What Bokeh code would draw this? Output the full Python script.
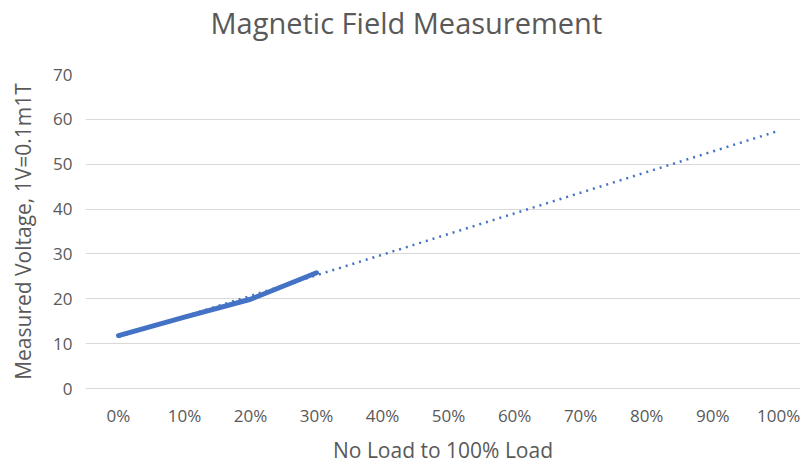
import numpy as np
from bokeh.plotting import figure
from bokeh.models import Range1d, FixedTicker, Title
from bokeh.embed import file_html
from bokeh.resources import INLINE

# Load steps along the x axis and the measured voltages (first four steps only)
load_labels = ["0%", "10%", "20%", "30%", "40%", "50%", "60%", "70%", "80%", "90%", "100%"]
measured_steps = [0, 1, 2, 3]
measured_voltage = [11.8, 15.9, 19.9, 25.8]
y_ticks = [0, 10, 20, 30, 40, 50, 60, 70]

# Linear trendline fitted to the measurements, extended over the full load range
all_steps = list(range(len(load_labels)))
slope, intercept = np.polyfit(measured_steps, measured_voltage, 1)
trend_voltage = [slope * s + intercept for s in all_steps]

FONT = "Open Sans"
TEXT = "#595959"
BLUE = "#4472C4"
GRID = "#D9D9D9"

p = figure(
    width=800, height=466,
    x_range=Range1d(-0.5, 10.33), y_range=Range1d(0, 70),
    output_backend="svg", toolbar_location=None,
    min_border_left=85, min_border_right=0, min_border_top=73, min_border_bottom=74,
)
p.outline_line_color = None
p.background_fill_color = "white"
p.border_fill_color = "white"

# An empty spacer panel next to the frame keeps the title up at the top edge
p.add_layout(Title(text=" ", text_font_size="10px", standoff=16), "above")
p.add_layout(Title(
    text="Magnetic Field Measurement", align="left", offset=125,
    vertical_align="top", standoff=4,
    text_font=FONT, text_font_size="29px", text_font_style="normal", text_color=TEXT,
), "above")

p.line(measured_steps, measured_voltage, line_color=BLUE, line_width=5, line_cap="round", line_join="round")
p.line(all_steps, trend_voltage, line_color=BLUE, line_width=2.5, line_dash="2 5", line_cap="butt")

p.xgrid.grid_line_color = None
p.ygrid.grid_line_color = GRID
p.ygrid.grid_line_width = 1

p.xaxis.ticker = FixedTicker(ticks=all_steps)
p.xaxis.major_label_overrides = {i: lab for i, lab in enumerate(load_labels)}
p.yaxis.ticker = FixedTicker(ticks=y_ticks)

for ax in (p.xaxis, p.yaxis):
    ax.major_tick_line_color = None
    ax.minor_tick_line_color = None
    ax.major_label_text_font = FONT
    ax.major_label_text_font_size = "17px"
    ax.major_label_text_color = TEXT
    ax.axis_label_text_font = FONT
    ax.axis_label_text_font_size = "21px"
    ax.axis_label_text_font_style = "normal"
    ax.axis_label_text_color = TEXT

p.xaxis.axis_line_color = GRID
p.yaxis.axis_line_color = None
p.xaxis.axis_label = "No Load to 100% Load"
p.yaxis.axis_label = "Measured Voltage, 1V=0.1m1T"
p.xaxis.major_label_standoff = 9
p.yaxis.major_label_standoff = 7
p.xaxis.axis_label_standoff = 6
p.yaxis.axis_label_standoff = 13

open("out.html", "w").write(file_html(p, INLINE))
